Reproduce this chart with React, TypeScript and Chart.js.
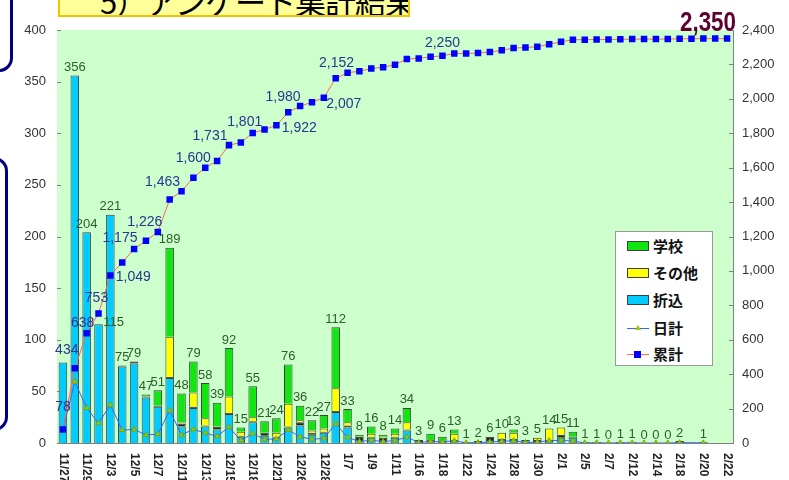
import React, { useEffect, useRef } from 'react';
import { Chart, registerables } from 'chart.js';

Chart.register(...registerables);

const FONT = '"Liberation Sans", Arial, sans-serif';
const JP = '"Noto Sans CJK JP", "Noto Sans", sans-serif';

// tick labels shown on every other category
const tickLabels = ['11/27', '11/29', '12/3', '12/5', '12/7', '12/11', '12/13', '12/15', '12/18', '12/21', '12/26', '12/28', '1/7', '1/9', '1/11', '1/16', '1/18', '1/22', '1/24', '1/28', '1/30', '2/1', '2/5', '2/7', '2/12', '2/14', '2/18', '2/20', '2/22'];

// 折込 (cyan)
const orikomi = [78, 356, 204, 115, 221, 74, 77, 44, 35, 63, 16, 34, 16, 13, 28, 6, 20, 7, 5, 15, 17, 8, 10, 30, 15, 3, 5, 3, 5, 12, 1, 2, 1, 2, 1, 2, 3, 3, 3, 3, 1, 2, 5, 5, 1, 1, 0, 1, 1, 0, 0, 0, 2, null, 1, null, null];
// unlabeled dark segment
const unknown = [0, 0, 0, 0, 0, 1, 2, 1, 1, 1, 3, 1, 1, 3, 1, 1, 1, 3, 1, 1, 3, 2, 1, 1, 2, 3, 1, 2, 1, 1, 2, 1, 1, 1, 0, 0, 3, 1, 1, 0, 2, 1, 3, 1, 0, 0, 0, 0, 0, 0, 0, 0, 0, null, 0, null, null];
// その他 (yellow)
const sonota = [0, 0, 0, 0, 0, 0, 0, 0, 0, 39, 1, 14, 7, 0, 16, 4, 4, 0, 4, 22, 2, 2, 3, 22, 3, 0, 3, 1, 3, 7, 0, 0, 0, 6, 0, 0, 0, 6, 6, 0, 2, 11, 7, 0, 0, 0, 0, 0, 0, 0, 0, 0, 0, null, 0, null, null];
// 学校 (green)
const gakko = [0, 0, 0, 0, 0, 0, 0, 2, 15, 86, 28, 30, 34, 23, 47, 4, 30, 11, 14, 38, 14, 10, 13, 59, 13, 2, 7, 2, 5, 14, 0, 6, 4, 4, 0, 0, 0, 0, 3, 0, 0, 0, 0, 5, 0, 0, 0, 0, 0, 0, 0, 0, 0, null, 0, null, null];
// 日計 (daily totals)
const daily = [78, 356, 204, 115, 221, 75, 79, 47, 51, 189, 48, 79, 58, 39, 92, 15, 55, 21, 24, 76, 36, 22, 27, 112, 33, 8, 16, 8, 14, 34, 3, 9, 6, 13, 1, 2, 6, 10, 13, 3, 5, 14, 15, 11, 1, 1, 0, 1, 1, 0, 0, 0, 2, null, 1, null, null];
// 累計 (cumulative)
const cumulative = [78, 434, 638, 753, 974, 1049, 1128, 1175, 1226, 1415, 1463, 1542, 1600, 1639, 1731, 1746, 1801, 1822, 1846, 1922, 1958, 1980, 2007, 2119, 2152, 2160, 2176, 2184, 2198, 2232, 2235, 2244, 2250, 2263, 2264, 2266, 2272, 2282, 2295, 2298, 2303, 2317, 2332, 2343, 2344, 2345, 2345, 2346, 2347, 2347, 2347, 2347, 2349, 2349, 2350, 2350, 2350];

// which cumulative points carry a value label
const cumLabelIdx = [0, 1, 2, 3, 5, 7, 8, 10, 12, 14, 16, 19, 21, 22, 24, 32];
// label placement (style, not data)
const cumLabelDx = [0, -8, -4, -2, 11, -26, -13, -19, -12, -19, -8, 11, -29, 20, -11, 0];
const cumLabelDy = [-22, -18, -10, -15, 15, -3, -10, -9, -10, -9, -11, 16, -5, 7, -10, -13];

const categories = daily.map((_, i) => (i % 2 === 0 ? tickLabels[i / 2] : ''));
const nz = (arr: (number | null)[]) => arr.map((v) => (v ? v : null));

const bgPlugin = {
  id: 'bgPlugin',
  beforeDatasetsDraw(chart: any) {
    const { ctx, chartArea: a } = chart;
    ctx.save();
    ctx.fillStyle = '#ccffcc';
    ctx.fillRect(a.left, a.top, a.right - a.left, a.bottom - a.top);
    ctx.restore();
  },
};

const decorPlugin = {
  id: 'decorPlugin',
  afterDraw(chart: any) {
    const { ctx, chartArea: a } = chart;
    const xs = chart.scales.x;
    const y = chart.scales.y;
    const y1 = chart.scales.y1;
    ctx.save();
    // inside tick marks
    ctx.strokeStyle = '#808080';
    ctx.lineWidth = 1;
    y.ticks.forEach((t: any) => {
      const py = Math.round(y.getPixelForValue(t.value)) + 0.5;
      ctx.beginPath();
      ctx.moveTo(a.left, py);
      ctx.lineTo(a.left + 4, py);
      ctx.stroke();
    });
    y1.ticks.forEach((t: any) => {
      const py = Math.round(y1.getPixelForValue(t.value)) + 0.5;
      ctx.beginPath();
      ctx.moveTo(a.right - 4, py);
      ctx.lineTo(a.right, py);
      ctx.stroke();
    });
    // rotated x labels (top to bottom)
    ctx.fillStyle = '#222';
    ctx.font = `bold 12px ${FONT}`;
    ctx.textAlign = 'left';
    ctx.textBaseline = 'middle';
    categories.forEach((lab, i) => {
      if (!lab) return;
      const px = xs.getPixelForValue(i);
      ctx.save();
      ctx.translate(px, a.bottom + 10);
      ctx.rotate(Math.PI / 2);
      ctx.fillText(lab, 0, 0);
      ctx.restore();
    });
    // bar total labels
    ctx.fillStyle = '#2e5a2e';
    ctx.font = `13px ${FONT}`;
    ctx.textAlign = 'center';
    ctx.textBaseline = 'middle';
    daily.forEach((v, i) => {
      if (v === null || i === 0) return;
      const px = xs.getPixelForValue(i);
      const py = y.getPixelForValue(v);
      let dx = 0;
      let dy = -8;
      if (i === 3) {
        dx = 15;
        dy = -2;
      }
      ctx.fillText(String(v), px + dx, py + dy);
    });
    // cumulative labels
    ctx.fillStyle = '#2a3590';
    ctx.font = `14px ${FONT}`;
    cumLabelIdx.forEach((idx, k) => {
      const v = cumulative[idx];
      const px = xs.getPixelForValue(idx);
      const py = y1.getPixelForValue(v);
      ctx.fillText(v.toLocaleString('en-US'), px + cumLabelDx[k], py + cumLabelDy[k]);
    });
    // final total
    const last = cumulative[cumulative.length - 1];
    ctx.fillStyle = '#5e0030';
    ctx.font = `bold 28px ${FONT}`;
    ctx.textAlign = 'right';
    ctx.textBaseline = 'alphabetic';
    ctx.translate(736, 31);
    ctx.scale(0.8, 1);
    ctx.fillText(last.toLocaleString('en-US'), 0, 0);
    ctx.restore();
  },
};

function ChartCanvas() {
  const ref = useRef<HTMLCanvasElement | null>(null);
  useEffect(() => {
    if (!ref.current) return;
    const barCommon = {
      type: 'bar' as const,
      yAxisID: 'y',
      stack: 's',
      order: 2,
      borderColor: '#404040',
      borderWidth: 1,
      barPercentage: 0.72,
      categoryPercentage: 1,
    };
    const chart = new Chart(ref.current, {
      type: 'bar',
      data: {
        labels: categories,
        datasets: [
          { ...barCommon, label: '折込', data: nz(orikomi), backgroundColor: '#00ccff' },
          { ...barCommon, label: '不明', data: nz(unknown), backgroundColor: '#222222' },
          { ...barCommon, label: 'その他', data: nz(sonota), backgroundColor: '#ffff00' },
          { ...barCommon, label: '学校', data: nz(gakko), backgroundColor: '#11e611' },
          {
            type: 'line',
            label: '日計',
            data: daily,
            yAxisID: 'y1',
            order: 1,
            borderColor: '#3366ff',
            borderWidth: 1,
            pointStyle: 'triangle',
            pointRadius: 3,
            pointBackgroundColor: '#99cc00',
            pointBorderColor: '#77aa00',
            pointBorderWidth: 1,
            spanGaps: true,
            tension: 0,
          } as any,
          {
            type: 'line',
            label: '累計',
            data: cumulative,
            yAxisID: 'y1',
            order: 0,
            borderColor: '#ff6655',
            borderWidth: 1,
            pointStyle: 'rect',
            pointRadius: 4.6,
            pointBackgroundColor: '#0000ff',
            pointBorderColor: '#0000ff',
            pointBorderWidth: 0,
            tension: 0,
          } as any,
        ],
      },
      options: {
        responsive: false,
        animation: false,
        devicePixelRatio: 1,
        layout: { padding: { top: 30, bottom: 37, left: 0, right: 0 } },
        plugins: { legend: { display: false }, tooltip: { enabled: false }, title: { display: false } },
        scales: {
          x: {
            type: 'category',
            stacked: true,
            offset: true,
            grid: { display: false, drawTicks: false },
            border: { display: true, color: '#808080' },
            ticks: { display: false },
            afterFit: (s: any) => {
              s.height = 0;
            },
          },
          y: {
            position: 'left',
            stacked: true,
            min: 0,
            max: 400,
            ticks: { stepSize: 50, color: '#333', font: { size: 13, family: FONT }, padding: 11 },
            grid: { display: false, drawTicks: false },
            border: { display: true, color: '#808080' },
            afterFit: (s: any) => {
              s.width = 57;
            },
          },
          y1: {
            position: 'right',
            stacked: false,
            min: 0,
            max: 2400,
            ticks: {
              stepSize: 200,
              color: '#333',
              font: { size: 13, family: FONT },
              padding: 9,
              callback: (v: any) => Number(v).toLocaleString('en-US'),
            },
            grid: { display: false, drawTicks: false },
            border: { display: true, color: '#808080' },
            afterFit: (s: any) => {
              s.width = 56;
            },
          },
        },
      },
      plugins: [bgPlugin, decorPlugin],
    } as any);
    return () => chart.destroy();
  }, []);
  return <canvas ref={ref} width={789} height={480} style={{ position: 'absolute', left: 0, top: 0 }} />;
}

const legendItems = [
  { label: '学校', kind: 'box', color: '#11e611' },
  { label: 'その他', kind: 'box', color: '#ffff00' },
  { label: '折込', kind: 'box', color: '#00ccff' },
  { label: '日計', kind: 'daily', color: '#3366ff' },
  { label: '累計', kind: 'cum', color: '#ff6655' },
];

function Legend() {
  const rowCenters = [14, 41, 68, 96, 122];
  return (
    <div
      style={{
        position: 'absolute',
        left: 615,
        top: 231,
        width: 98,
        height: 135,
        background: '#fff',
        border: '1px solid #9a9a9a',
        boxSizing: 'border-box',
        fontFamily: JP,
        fontSize: 15,
        fontWeight: 'bold',
        color: '#111',
      }}
    >
      {legendItems.map((it, i) => (
        <div key={it.label} style={{ position: 'absolute', left: 0, top: rowCenters[i] - 10, height: 20, width: 96 }}>
          {it.kind === 'box' && (
            <div
              style={{
                position: 'absolute',
                left: 11,
                top: 5,
                width: 22,
                height: 10,
                background: it.color,
                border: '1px solid #404040',
                boxSizing: 'border-box',
              }}
            />
          )}
          {it.kind !== 'box' && (
            <div style={{ position: 'absolute', left: 11, top: 10, width: 22, height: 1, background: it.color }} />
          )}
          {it.kind === 'daily' && (
            <div
              style={{
                position: 'absolute',
                left: 19,
                top: 7,
                width: 0,
                height: 0,
                borderLeft: '3px solid transparent',
                borderRight: '3px solid transparent',
                borderBottom: '5px solid #99cc00',
              }}
            />
          )}
          {it.kind === 'cum' && (
            <div style={{ position: 'absolute', left: 18, top: 7, width: 7, height: 7, background: '#0000ff' }} />
          )}
          <span style={{ position: 'absolute', left: 37, top: 0, lineHeight: '20px', whiteSpace: 'nowrap' }}>{it.label}</span>
        </div>
      ))}
    </div>
  );
}

export default function App() {
  return (
    <div style={{ position: 'fixed', left: 0, top: 0, width: 789, height: 480, overflow: 'hidden', background: '#fff' }}>
      <ChartCanvas />
      {/* title banner */}
      <div
        style={{
          position: 'absolute',
          left: 58,
          top: -30,
          width: 352,
          height: 47,
          background: '#ffff99',
          border: '2px solid #f5c400',
          boxSizing: 'border-box',
          overflow: 'hidden',
        }}
      >
        <span
          style={{
            position: 'absolute',
            left: 40,
            top: 13,
            fontFamily: JP,
            fontSize: 31,
            lineHeight: '31px',
            letterSpacing: -1,
            color: '#000',
            whiteSpace: 'nowrap',
          }}
        >
          5）アンケート集計結果
        </span>
      </div>
      {/* side frames */}
      <div
        style={{
          position: 'absolute',
          left: -40,
          top: -20,
          width: 53,
          height: 92,
          border: '3px solid #000080',
          borderRadius: 14,
          boxSizing: 'border-box',
        }}
      />
      <div
        style={{
          position: 'absolute',
          left: -40,
          top: 157,
          width: 48,
          height: 274,
          border: '3px solid #000080',
          borderRadius: 14,
          boxSizing: 'border-box',
        }}
      />
      <Legend />
    </div>
  );
}
